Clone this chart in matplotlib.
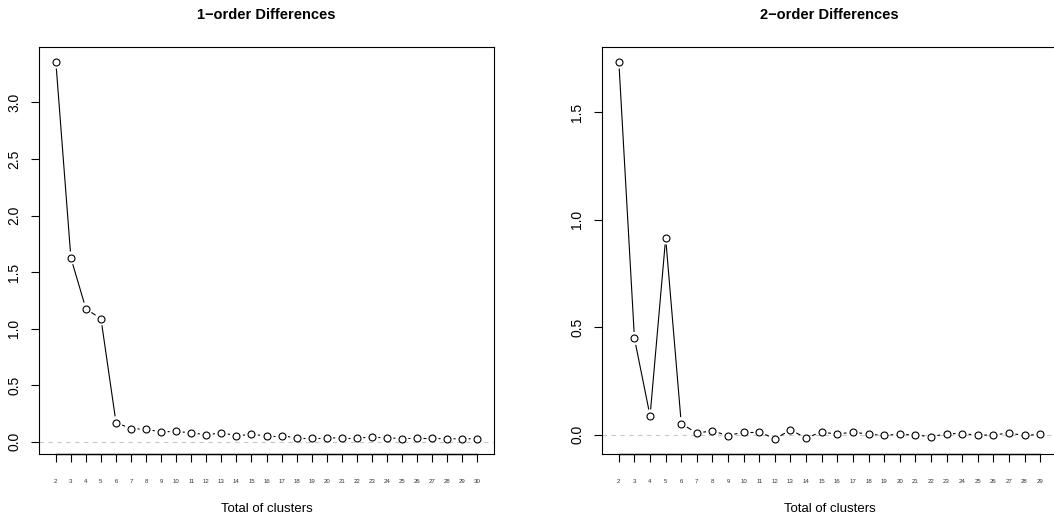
import matplotlib
matplotlib.use("Agg")
import matplotlib.pyplot as plt
import numpy as np

plt.rcParams['font.family'] = ['Liberation Sans', 'DejaVu Sans']

# first and second order differences of the clustering index
k1 = np.arange(2, 31)
diff1 = [3.357, 1.625, 1.175, 1.087, 0.168, 0.117, 0.109, 0.088, 0.091, 0.079,
         0.062, 0.079, 0.053, 0.065, 0.053, 0.053, 0.035, 0.035, 0.035, 0.033,
         0.033, 0.040, 0.035, 0.028, 0.030, 0.030, 0.025, 0.028, 0.025]

k2 = np.arange(2, 30)
diff2 = [1.733, 0.448, 0.088, 0.915, 0.052, 0.008, 0.019, -0.005, 0.014, 0.014,
         -0.019, 0.023, -0.015, 0.014, 0.002, 0.014, 0.002, -0.002, 0.002, 0.000,
         -0.009, 0.005, 0.006, -0.002, 0.000, 0.008, -0.003, 0.002]

titles = ["1\u2212order Differences", "2\u2212order Differences"]
yticks = [np.arange(0, 3.01, 0.5), np.arange(0, 1.51, 0.5)]

W, H = 1054, 519
fig = plt.figure(figsize=(W / 100, H / 100), dpi=100)

GAP = 6.5  # pixels left blank around each point (type = "b")


def r_range(v):
    lo, hi = min(v), max(v)
    d = (hi - lo) * 0.04
    return lo - d, hi + d


def b_lines(ax, x, y):
    pts = ax.transData.transform(np.column_stack([x, y]))
    inv = ax.transData.inverted()
    for p, q in zip(pts[:-1], pts[1:]):
        d = q - p
        L = np.hypot(*d)
        if L <= 2 * GAP:
            continue
        u = d / L
        a = inv.transform(p + u * GAP)
        b = inv.transform(q - u * GAP)
        ax.plot([a[0], b[0]], [a[1], b[1]], color='black', lw=0.8,
                solid_capstyle='butt')


for i, (x, y) in enumerate([(k1, diff1), (k2, diff2)]):
    left = 39 + i * 563
    ax = fig.add_axes([left / W, (H - 454) / H, 455 / W, 407 / H])
    ax.set_xlim(r_range(x))
    ax.set_ylim(r_range(y))

    ax.axhline(0, color='#c8c8c8', lw=0.8, ls=(0, (4, 4)), zorder=1)
    b_lines(ax, x, y)
    ax.plot(x, y, 'o', ms=5.0, mfc='white', mec='black', mew=0.8, zorder=3)

    for s in ax.spines.values():
        s.set_linewidth(0.8)
    ax.plot([x[0], x[-1]], [0, 0], transform=ax.get_xaxis_transform(),
            color='black', lw=1.0, clip_on=False)

    ax.set_xticks(x)
    ax.set_xticklabels([str(v) for v in x], fontsize=4.4, color='#333333')
    ax.tick_params(axis='x', length=5.8, width=0.8, pad=12)
    ax.set_yticks(yticks[i])
    ax.set_yticklabels(['%.1f' % v for v in yticks[i]], fontsize=10,
                       rotation=90, va='center')
    ax.tick_params(axis='y', length=5.8, width=0.8, pad=7)

    ax.set_title(titles[i], fontsize=10.5, fontweight='bold', pad=20)
    ax.set_xlabel("Total of clusters", fontsize=9.5, labelpad=14)

fig.savefig("out.png", dpi=100)
